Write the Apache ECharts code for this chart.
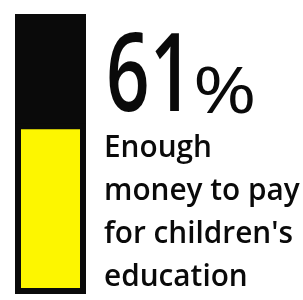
<!DOCTYPE html>
<html>
<head>
<meta charset="utf-8">
<script src="https://cdn.jsdelivr.net/npm/echarts@6/dist/echarts.min.js"></script>
<style>
    html, body { margin: 0; padding: 0; background: #ffffff; }
    #chart { width: 303px; height: 300px; }
</style>
</head>
<body>
<div id="chart"></div>
<script>
// share who said yes, and the rest of the bar
let categories = ["Enough money to pay for children's education"];
let yesValues = [61];
let restValues = [39];
let labelLines = ['Enough', 'money to pay', "for children's", 'education'];

let yellow = '#fdf600';
let ink = '#0a0a0a';

// whole bar = yes + rest, drawn behind the yellow part
let totalValues = yesValues.map((v, i) => v + restValues[i]);

// text beside the bar
let graphics = [
    {
        type: 'text',
        x: 106,
        y: 80,
        scaleX: 0.7,
        style: {
            text: String(yesValues[0]),
            font: '600 109px "Open Sans"',
            fill: ink,
            verticalAlign: 'middle'
        }
    },
    {
        type: 'text',
        x: 193,
        y: 95,
        scaleX: 1.2,
        style: {
            text: '%',
            font: '64px "Open Sans"',
            fill: ink,
            verticalAlign: 'middle'
        }
    }
];
labelLines.forEach((line, i) => {
    graphics.push({
        type: 'text',
        x: 104,
        y: 148 + i * 43,
        scaleX: 0.96,
        style: {
            text: line,
            font: '600 31px "Open Sans"',
            fill: ink,
            verticalAlign: 'middle'
        }
    });
});

let option = {
    animation: false,
    backgroundColor: '#ffffff',
    grid: {
        left: 15,
        right: 217,
        top: 14,
        bottom: 6,
        containLabel: false
    },
    xAxis: {
        type: 'category',
        data: categories,
        show: false
    },
    yAxis: {
        type: 'value',
        min: 0,
        max: 100,
        show: false
    },
    series: [
        {
            name: 'total',
            type: 'bar',
            barWidth: '100%',
            barGap: '-100%',
            data: totalValues,
            itemStyle: {
                color: ink,
                borderColor: ink,
                borderWidth: 6
            }
        },
        {
            name: 'yes',
            type: 'bar',
            barWidth: '100%',
            barGap: '-100%',
            data: yesValues,
            itemStyle: {
                color: yellow,
                borderColor: ink,
                borderWidth: 6
            }
        }
    ],
    graphic: graphics
};

let chart = echarts.init(document.getElementById('chart'));
chart.setOption(option);
</script>
</body>
</html>
